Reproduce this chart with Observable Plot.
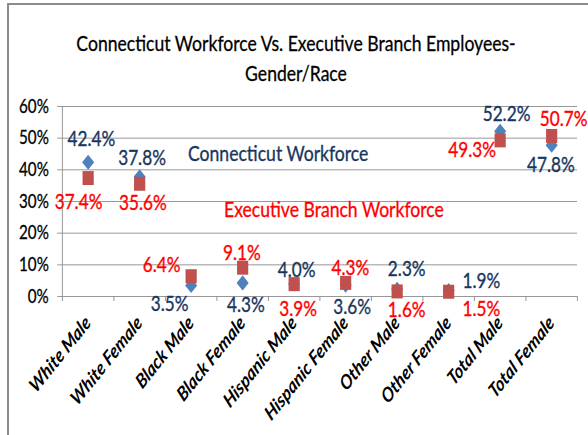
<!DOCTYPE html>
<html><head><meta charset="utf-8">
<script src="https://cdn.jsdelivr.net/npm/d3@7"></script>
<script src="https://cdn.jsdelivr.net/npm/@observablehq/plot@0.6"></script>
<style>
html,body{margin:0;padding:0;overflow:hidden;background:#fff;width:588px;height:435px}
#wrap{position:absolute;left:0;top:0;width:735px;height:435px;transform:scaleX(0.8);transform-origin:0 0;}
#chart{position:absolute;left:0;top:0;width:735px;height:435px}
#title{position:absolute;left:0;top:28px;width:740px;text-align:center;font-family:Lato,sans-serif;font-size:22px;line-height:29.5px;color:#000;-webkit-text-stroke:0.3px #000;}
#frame{position:absolute;left:7px;top:3px;width:620px;height:460px;border-left:2px solid #8c8c8c;border-top:2px solid #8c8c8c;}
</style></head>
<body>
<div id="wrap"><div id="chart"></div><div id="title">Connecticut Workforce Vs. Executive Branch Employees-<br>Gender/Race</div></div>
<div id="frame"></div>
<script>
const categories = ["White Male", "White Female", "Black Male", "Black Female", "Hispanic Male", "Hispanic Female", "Other Male", "Other Female", "Total Male", "Total Female"];
const connecticutWorkforce = [42.4, 37.8, 3.5, 4.3, 4.0, 3.6, 2.3, 1.9, 52.2, 47.8];
const executiveBranch = [37.4, 35.6, 6.4, 9.1, 3.9, 4.3, 1.6, 1.5, 49.3, 50.7];
const yTicks = [0, 10, 20, 30, 40, 50, 60];
const seriesNames = ["Connecticut Workforce", "Executive Branch Workforce"];

// label placement (px offsets from each marker), styling only
const blueLabelOffsets = [[4,-23],[3,-19],[-27,19],[4,22],[3,-14],[8,22],[12,-20],[41,-9],[8,-17],[-1,20]];
const redLabelOffsets = [[-12,24],[4,19],[-37,-11],[-1,-15],[5,25],[6,-15],[12,19],[41,17],[-35,10],[15,-17]];

const blue = "#4F81BD", red = "#C0504D", navy = "#17365D", redText = "#FF0000", grid = "#8c8c8c";
const idx = categories.map((_, i) => i);
const cx = i => i + 0.5;
const pct = v => v.toFixed(1) + "%";

const labelMarks = (values, offsets, color) => idx.map(i =>
  Plot.text([i], {x: cx, y: j => values[j], text: j => pct(values[j]), dx: offsets[i][0], dy: offsets[i][1],
    fontSize: 21.5, fill: color, stroke: color, strokeWidth: 0.35, textAnchor: "middle", lineAnchor: "middle"}));

const chart = Plot.plot({
  width: 735, height: 435,
  marginLeft: 77.5, marginRight: 13.75, marginTop: 106, marginBottom: 139,
  x: {domain: [0, categories.length], axis: null},
  y: {domain: [0, 60], axis: null},
  style: {fontFamily: "Lato, sans-serif", fontSize: "16px", background: "transparent", color: "#000", overflow: "visible"},
  marks: [
    Plot.ruleY(yTicks, {y: d => d, x1: () => 0, x2: () => categories.length, stroke: grid, strokeWidth: 1}),
    Plot.ruleX([0], {x: d => d, y1: () => 0, y2: () => 60, stroke: grid}),
    Plot.ruleY(yTicks, {y: d => d, x1: () => 0, x2: () => 0, insetLeft: -6, stroke: grid}),
    Plot.ruleX(d3.range(categories.length + 1), {x: d => d, y1: () => 0, y2: () => 0, insetBottom: -5, stroke: grid}),
    Plot.text(yTicks, {x: () => 0, y: d => d, text: d => d + "%", textAnchor: "end", dx: -17, fontSize: 19, fill: "#000", stroke: "#000", strokeWidth: 0.3, lineAnchor: "middle"}),
    Plot.text([seriesNames[0]], {frameAnchor: "top-left", text: d => d, textAnchor: "start", lineAnchor: "middle", dx: 157, dy: 47, fontSize: 22, fill: navy, stroke: navy, strokeWidth: 0.35}),
    Plot.text([seriesNames[1]], {frameAnchor: "top-left", text: d => d, textAnchor: "start", lineAnchor: "middle", dx: 202, dy: 103, fontSize: 22, fill: redText, stroke: redText, strokeWidth: 0.35}),
    Plot.dot(idx, {x: cx, y: i => connecticutWorkforce[i], symbol: "diamond2", r: 6.8, fill: blue}),
    Plot.dot(idx, {x: cx, y: i => executiveBranch[i], symbol: "square", r: 7.9, fill: red}),
    ...labelMarks(connecticutWorkforce, blueLabelOffsets, navy),
    ...labelMarks(executiveBranch, redLabelOffsets, redText),
    Plot.text(idx, {x: cx, frameAnchor: "bottom", text: i => categories[i], rotate: -45, textAnchor: "end", lineAnchor: "middle",
      dx: 0, dy: 23, fontSize: 20, fontWeight: "bold", fontStyle: "italic", fill: "#000"})
  ]
});
document.getElementById("chart").appendChild(chart);
</script>
</body></html>
